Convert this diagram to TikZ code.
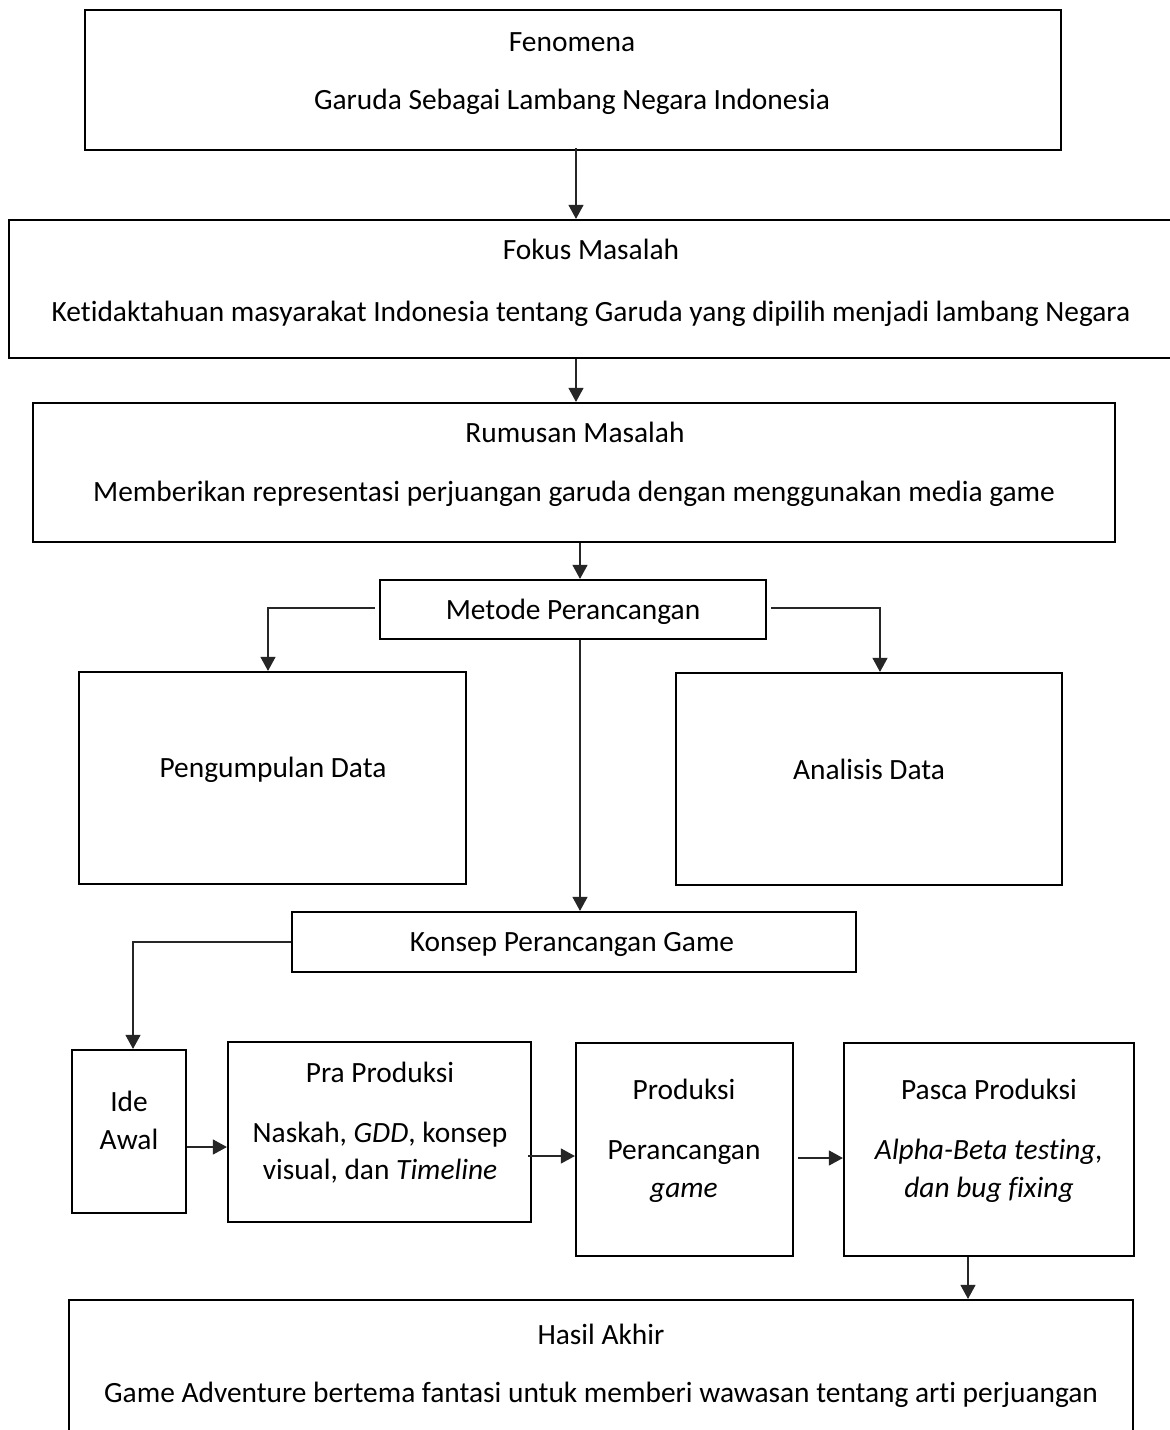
\documentclass[tikz,border=0pt]{standalone}
\usepackage{fontspec}
\setmainfont[Ligatures=NoCommon]{Carlito}
\usetikzlibrary{arrows.meta}
\begin{document}
\begin{tikzpicture}[x=1pt,y=-1pt,
  box/.style={draw=black,line width=2.2pt,rectangle,inner sep=0pt},
  lbl/.style={inner sep=0pt,anchor=base,font=\fontsize{29.4}{38}\selectfont},
  arr/.style={draw=black!85,line width=1.1pt,-{Triangle[width=15pt,length=14pt]}}]
\useasboundingbox[fill=white] (0,0) rectangle (1170,1430);
% boxes
\node[box,minimum width=976pt,minimum height=140pt] (fen) at (573,80) {};
\node[box,minimum width=1167pt,minimum height=138pt] (fok) at (592.5,289) {};
\node[box,minimum width=1082pt,minimum height=139pt] (rum) at (574,472.5) {};
\node[box,minimum width=386pt,minimum height=59pt] (met) at (573,609.5) {};
\node[box,minimum width=387pt,minimum height=212pt] (pen) at (272.5,778) {};
\node[box,minimum width=386pt,minimum height=212pt] (ana) at (869,779) {};
\node[box,minimum width=564pt,minimum height=60pt] (kon) at (574,942) {};
\node[box,minimum width=114pt,minimum height=163pt] (ide) at (129,1131.5) {};
\node[box,minimum width=303pt,minimum height=180pt] (pra) at (379.5,1132) {};
\node[box,minimum width=217pt,minimum height=213pt] (pro) at (684.5,1149.5) {};
\node[box,minimum width=290pt,minimum height=213pt] (pas) at (989,1149.5) {};
\node[box,minimum width=1064pt,minimum height=140pt] (has) at (601,1370) {};
% texts
\node[lbl] (t1a) at (572,51) {Fenomena};
\node[lbl] (t1b) at (572,109) {Garuda Sebagai Lambang Negara Indonesia};
\node[lbl] (t2a) at (591,259) {Fokus Masalah};
\node[lbl] (t2b) at (591,321) {Ketidaktahuan masyarakat Indonesia tentang Garuda yang dipilih menjadi lambang Negara};
\node[lbl] (t3a) at (575,442) {Rumusan Masalah};
\node[lbl] (t3b) at (574,501) {Memberikan representasi perjuangan garuda dengan menggunakan media game};
\node[lbl] (t4) at (573,619) {Metode Perancangan};
\node[lbl] (t5) at (273,777) {Pengumpulan Data};
\node[lbl] (t6) at (869,779) {Analisis Data};
\node[lbl] (t7) at (572,951) {Konsep Perancangan Game};
\node[lbl] (t8a) at (129,1111) {Ide};
\node[lbl] (t8b) at (129,1149) {Awal};
\node[lbl] (t9a) at (380,1082) {Pra Produksi};
\node[lbl] (t9b) at (380,1142) {Naskah, \textit{GDD}, konsep};
\node[lbl] (t9c) at (380,1179) {visual, dan \textit{Timeline}};
\node[lbl] (t10a) at (684,1099) {Produksi};
\node[lbl] (t10b) at (684,1159) {Perancangan};
\node[lbl] (t10c) at (684,1197) {\textit{game}};
\node[lbl] (t11a) at (989,1099) {Pasca Produksi};
\node[lbl] (t11b) at (989,1159) {\textit{Alpha-Beta testing,}};
\node[lbl] (t11c) at (989,1197) {\textit{dan bug fixing}};
\node[lbl] (t12a) at (601,1344) {Hasil Akhir};
\node[lbl] (t12b) at (601,1402) {Game Adventure bertema fantasi untuk memberi wawasan tentang arti perjuangan};
% connectors
\draw[arr] ([xshift=3pt,yshift=3pt]fen.south) -- ([xshift=3pt]fen.south |- fok.north);
\draw[arr] ([xshift=-16.5pt]fok.south) -- ([xshift=-16.5pt]fok.south |- rum.north);
\draw[arr] ([xshift=6pt]rum.south) -- ([xshift=6pt]rum.south |- met.north);
\draw[arr] ([xshift=-4pt,yshift=1.5pt]met.west) -| ([xshift=-4.5pt]pen.north);
\draw[arr] ([xshift=4pt,yshift=1.5pt]met.east) -| ([xshift=11pt]ana.north);
\draw[arr] ([xshift=7pt]met.south) -- ([xshift=7pt]met.south |- kon.north);
\draw[arr] (kon.west) -| ([xshift=4pt]ide.north);
\draw[arr] ([yshift=-15.5pt]ide.east) -- ([yshift=-15.5pt]ide.east -| pra.west);
\draw[arr] ([xshift=-4pt,yshift=-24pt]pra.east) -- ([yshift=-24pt]pra.east -| pro.west);
\draw[arr] ([xshift=4pt,yshift=-8.5pt]pro.east) -- ([yshift=-8.5pt]pro.east -| pas.west);
\draw[arr] ([xshift=-21pt]pas.south) -- ([xshift=-21pt]pas.south |- has.north);
\end{tikzpicture}
\end{document}
